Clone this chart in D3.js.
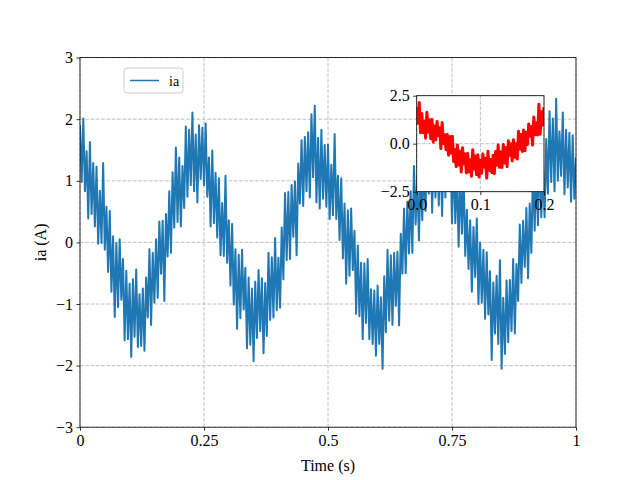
<!DOCTYPE html>
<html>
<head>
<meta charset="utf-8">
<script src="https://cdn.jsdelivr.net/npm/d3@7/dist/d3.min.js"></script>
<style>
  body { margin: 0; background: #fff; }
  svg { display: block; }
  text { font-family: "Liberation Serif", "Times New Roman", serif; fill: #000; }
</style>
</head>
<body>
<div id="chart"></div>
<script>
const iaValues = [
  1.90, 0.98, 2.01, 0.83, 1.48, 0.39, 1.63, 0.46, 1.29, 0.26, 1.23, -0.02, 0.84, -0.01, 1.29, -0.12,
  0.58, -0.48, 0.51, -0.80, 0.10, -1.21, -0.01, -1.05, 0.05, -0.93, -0.27, -1.59, -0.46, -1.57, -0.67, -1.86,
  -0.60, -1.53, -0.44, -1.70, -0.84, -1.68, -0.75, -1.76, -0.57, -1.22, -0.11, -1.34, -0.17, -0.98, 0.05, -0.90,
  0.34, -0.51, 0.35, -0.95, 0.46, -0.23, 0.83, -0.17, 1.14, 0.24, 1.54, 0.33, 1.38, 0.26, 1.24, 0.56,
  1.88, 0.74, 1.83, 0.93, 2.11, 0.83, 1.75, 0.65, 1.90, 1.03, 1.86, 0.93, 1.93, 0.74, 1.38, 0.26,
  1.49, 0.31, 1.13, 0.08, 1.04, -0.21, 0.64, -0.22, 1.08, -0.33, 0.36, -0.70, 0.30, -1.01, -0.11, -1.40,
  -0.20, -1.23, -0.12, -1.09, -0.41, -1.72, -0.57, -1.66, -0.75, -1.93, -0.64, -1.55, -0.45, -1.44, -0.58, -1.80,
  -0.66, -1.52, -0.17, -1.26, -0.24, -1.22, 0.07, -1.10, -0.25, -1.06, 0.24, -0.60, 0.80, -0.29, 0.82, -0.27,
  0.93, 0.09, 0.99, -0.21, 1.28, 0.63, 1.66, 0.59, 1.71, 0.83, 1.79, 0.73, 2.08, 1.06, 2.22, 0.65,
  1.70, 0.55, 1.83, 0.71, 1.58, 0.58, 1.59, 0.38, 1.26, 0.44, 1.76, 0.38, 1.08, 0.04, 1.04, -0.26,
  0.63, -0.67, 0.52, -0.54, 0.55, -0.45, 0.19, -1.16, -0.05, -1.20, -0.33, -1.57, -0.34, -1.31, -0.27, -1.57,
  -0.76, -1.65, -0.78, -1.84, -0.70, -1.65, -0.89, -2.05, -0.55, -1.46, -0.12, -1.27, -0.21, -1.34, -0.17, -1.03,
  -0.15, -1.35, 0.14, -0.51, 0.55, -0.50, 0.66, -0.18, 0.83, -0.17, 1.24, 0.29, 1.09, 0.03, 1.18, 0.36,
  1.29, 0.51, 1.83, 0.79, 1.73, 0.48, 1.66, 0.73, 1.80, 0.60, 1.65, 0.43, 1.71, 0.73, 1.88, 0.94,
  1.63, 0.31, 1.44, 0.31, 1.18, -0.07, 1.14, 0.14, 1.14, -0.22, 0.53, -0.43, 0.36, -0.80, 0.25, -0.56,
  0.39, -1.00, 0.00, -0.98, -0.12, -1.24, -0.16, -1.17, -0.47, -1.91, -0.65, -1.48, -0.54, -1.65, -0.29, -2.05,
  -0.90, -1.81, -0.62, -1.62, -0.61, -1.44, -0.27, -1.48, -0.35, -0.95, 0.29, -0.66, 0.35, -0.40, 0.56, -0.58,
  0.63, -0.17, 1.24, 0.19, 1.24, 0.28, 1.58, 0.41, 1.24, 0.41, 1.68, 0.79, 2.13, 0.98, 2.01, 0.83,
  2.33, 1.00, 1.80, 1.08, 2.11, 0.78, 1.83, 0.89, 1.78, 0.66, 1.74, 0.71, 1.38
];
const iaDuration = 1.0;

// zoomed view of the first 0.2 s (inset)
const zoomValues = [
  1.90, 1.06, 2.15, 0.57, 1.57, 0.58, 1.18, 0.29, 1.64, 0.60, 1.25, 0.26, 1.27, 0.08, 0.94, 0.20,
  1.16, 0.42, 0.83, -0.26, 1.10, 0.01, 0.47, -0.32, 0.49, -0.60, 0.38, -0.49, 0.39, -0.93, -0.30, -1.19,
  -0.07, -1.11, -0.39, -1.48, -0.21, -1.05, -0.53, -1.52, -0.50, -1.47, -0.83, -1.70, -0.31, -1.33, -0.64, -1.61,
  -0.57, -1.74, -0.85, -1.54, -0.53, -1.22, -0.76, -1.80, -0.39, -1.38, -0.82, -1.51, -0.60, -1.56, -0.41, -1.12,
  -0.07, -1.23, -0.43, -1.24, -0.04, -1.00, -0.20, -1.20, 0.15, -0.60, 0.00, -0.90, 0.20, -0.70, 0.00, -0.80,
  0.65, -0.28, 0.48, -0.40, 0.71, -0.37, 0.59, -0.04, 1.02, 0.39, 0.90, -0.08, 1.39, 0.46, 1.08, 0.45,
  2.05, 0.49, 1.66, 0.98, 1.90
];
const zoomDuration = 0.2;

const xTicks = [0, 0.25, 0.5, 0.75, 1];
const xTickLabels = ["0", "0.25", "0.5", "0.75", "1"];
const yTicks = [-3, -2, -1, 0, 1, 2, 3];
const insetXTicks = [0, 0.1, 0.2];
const insetYTicks = [-2.5, 0, 2.5];

const width = 640, height = 480;
const margin = { top: 57.6, right: 64, bottom: 52.8, left: 80 };
const innerW = width - margin.left - margin.right;
const innerH = height - margin.top - margin.bottom;
const gridColor = "#b0b0b0";
const minus = s => s.replace("-", "\u2212");

const svg = d3.select("#chart").append("svg")
    .attr("width", width)
    .attr("height", height);
svg.append("rect").attr("width", width).attr("height", height).attr("fill", "#fff");

const g = svg.append("g").attr("transform", `translate(${margin.left},${margin.top})`);

const x = d3.scaleLinear().domain([0, 1]).range([0, innerW]);
const y = d3.scaleLinear().domain([-3, 3]).range([innerH, 0]);

// grid
g.append("g").selectAll("line.vg").data(xTicks).join("line")
    .attr("x1", d => x(d)).attr("x2", d => x(d))
    .attr("y1", 0).attr("y2", innerH)
    .attr("stroke", gridColor).attr("stroke-width", 0.8).attr("stroke-dasharray", "3.7,1.6");
g.append("g").selectAll("line.hg").data(yTicks).join("line")
    .attr("y1", d => y(d)).attr("y2", d => y(d))
    .attr("x1", 0).attr("x2", innerW)
    .attr("stroke", gridColor).attr("stroke-width", 0.8).attr("stroke-dasharray", "3.7,1.6");

// signal
svg.append("clipPath").attr("id", "clipMain").append("rect")
    .attr("width", innerW).attr("height", innerH);

const line = d3.line()
    .x((d, i) => x(i / (iaValues.length - 1) * iaDuration))
    .y(d => y(d));

g.append("path")
    .datum(iaValues)
    .attr("clip-path", "url(#clipMain)")
    .attr("fill", "none")
    .attr("stroke", "#1f77b4")
    .attr("stroke-width", 2)
    .attr("stroke-linejoin", "round")
    .attr("d", line);

// axes
const xAxis = d3.axisBottom(x).tickValues(xTicks)
    .tickFormat((d, i) => xTickLabels[i]).tickSizeInner(3.5).tickSizeOuter(0).tickPadding(3.5);
const yAxis = d3.axisLeft(y).tickValues(yTicks)
    .tickFormat(d => minus(String(d))).tickSizeInner(3.5).tickSizeOuter(0).tickPadding(3.5);

const gx = g.append("g").attr("transform", `translate(0,${innerH})`).call(xAxis);
const gy = g.append("g").call(yAxis);
[gx, gy].forEach(a => {
    a.select(".domain").remove();
    a.selectAll("line").attr("stroke", "#000").attr("stroke-width", 0.8);
    a.selectAll("text").style("font-family", "Liberation Serif, serif").style("font-size", "16px").attr("fill", "#000");
});

g.append("rect")
    .attr("width", innerW).attr("height", innerH)
    .attr("fill", "none").attr("stroke", "#000").attr("stroke-width", 0.8);

// axis labels
svg.append("text")
    .attr("x", margin.left + innerW / 2).attr("y", 471)
    .attr("text-anchor", "middle").style("font-size", "16px")
    .text("Time (s)");
svg.append("text")
    .attr("transform", `translate(46,${margin.top + innerH / 2}) rotate(-90)`)
    .attr("text-anchor", "middle").style("font-size", "16px")
    .text("ia (A)");

// legend
const leg = svg.append("g").attr("transform", "translate(124,68)");
leg.append("rect")
    .attr("width", 59).attr("height", 25).attr("rx", 3)
    .attr("fill", "#fff").attr("fill-opacity", 0.8)
    .attr("stroke", "#ccc").attr("stroke-width", 1);
leg.append("line")
    .attr("x1", 6).attr("x2", 35).attr("y1", 12.5).attr("y2", 12.5)
    .attr("stroke", "#1f77b4").attr("stroke-width", 1.5);
leg.append("text")
    .attr("x", 45).attr("y", 17.5).style("font-size", "14px")
    .text("ia");

// inset
const inset = { left: 416.7, top: 95.7, w: 127.3, h: 96 };
const gi = svg.append("g").attr("transform", `translate(${inset.left},${inset.top})`);
const xi = d3.scaleLinear().domain([0, 0.2]).range([0, inset.w]);
const yi = d3.scaleLinear().domain([-2.5, 2.5]).range([inset.h, 0]);

gi.append("rect").attr("width", inset.w).attr("height", inset.h).attr("fill", "#fff");
gi.append("g").selectAll("line").data(insetXTicks).join("line")
    .attr("x1", d => xi(d)).attr("x2", d => xi(d))
    .attr("y1", 0).attr("y2", inset.h)
    .attr("stroke", gridColor).attr("stroke-width", 0.8).attr("stroke-dasharray", "3.7,1.6");
gi.append("g").selectAll("line").data(insetYTicks).join("line")
    .attr("y1", d => yi(d)).attr("y2", d => yi(d))
    .attr("x1", 0).attr("x2", inset.w)
    .attr("stroke", gridColor).attr("stroke-width", 0.8).attr("stroke-dasharray", "3.7,1.6");

svg.append("clipPath").attr("id", "clipInset").append("rect")
    .attr("width", inset.w).attr("height", inset.h);

const zline = d3.line()
    .x((d, i) => xi(i / (zoomValues.length - 1) * zoomDuration))
    .y(d => yi(d));

gi.append("path")
    .datum(zoomValues)
    .attr("clip-path", "url(#clipInset)")
    .attr("fill", "none")
    .attr("stroke", "red")
    .attr("stroke-width", 3)
    .attr("stroke-linejoin", "round")
    .attr("d", zline);

const gix = gi.append("g").attr("transform", `translate(0,${inset.h})`)
    .call(d3.axisBottom(xi).tickValues(insetXTicks).tickFormat(d3.format(".1f"))
        .tickSizeInner(3.5).tickSizeOuter(0).tickPadding(3.5));
const giy = gi.append("g")
    .call(d3.axisLeft(yi).tickValues(insetYTicks).tickFormat(d => minus(d3.format(".1f")(d)))
        .tickSizeInner(3.5).tickSizeOuter(0).tickPadding(3.5));
[gix, giy].forEach(a => {
    a.select(".domain").remove();
    a.selectAll("line").attr("stroke", "#000").attr("stroke-width", 0.8);
    a.selectAll("text").style("font-family", "Liberation Serif, serif").style("font-size", "16px").attr("fill", "#000");
});
gi.append("rect")
    .attr("width", inset.w).attr("height", inset.h)
    .attr("fill", "none").attr("stroke", "#000").attr("stroke-width", 0.8);
</script>
</body>
</html>
